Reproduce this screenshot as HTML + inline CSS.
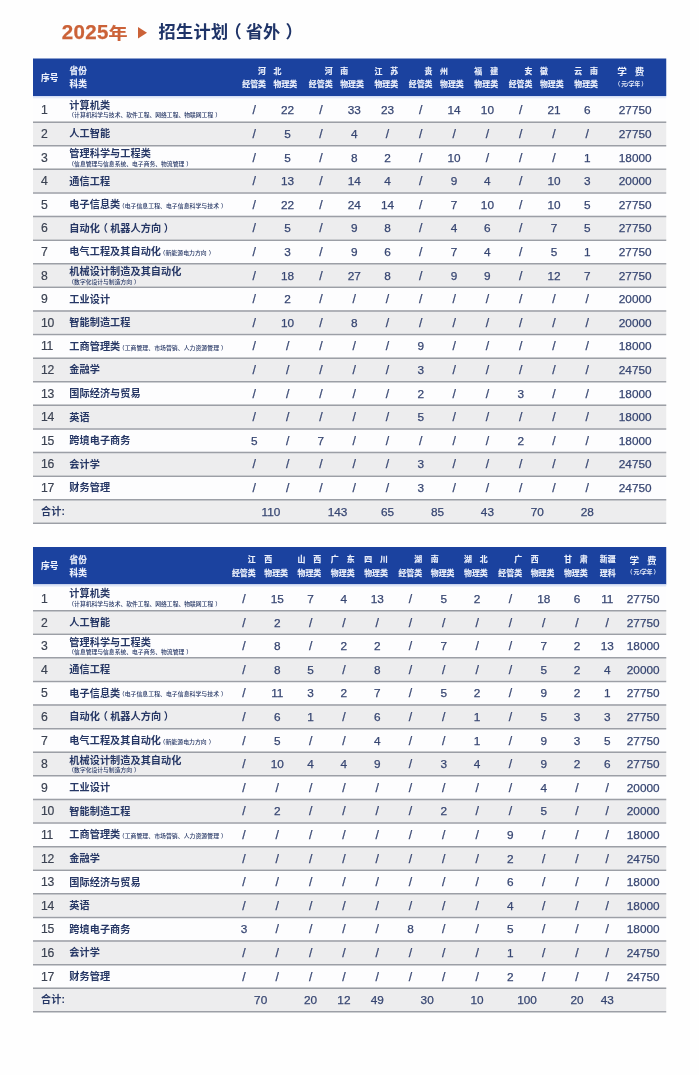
<!DOCTYPE html>
<html lang="zh-CN"><head><meta charset="utf-8"><title>2025年 招生计划（省外）</title>
<style>
html,body{margin:0;padding:0;background:#fefefe;}
#wrap{position:relative;width:699px;height:1075px;overflow:hidden;background:#fefefe;}
#pg{position:absolute;left:0;top:0;width:2796px;height:4300px;transform:scale(0.25);transform-origin:0 0;filter:blur(1.2px);
 font-family:"Liberation Sans","Noto Sans CJK SC",sans-serif;}
#pg div,#pg span{position:absolute;white-space:nowrap;line-height:1;}
#pg span span{position:static;}
.h{color:#edf1fc;font-size:31.6px;font-weight:700;-webkit-text-stroke:0.6px #edf1fc;}
.hl{font-size:34.8px;}
.hf{color:#edf1fc;font-size:38.4px;font-weight:700;}
.hs{color:#e9eefb;font-size:23.2px;font-weight:700;}
.i{color:#3b4252;font-size:48.8px;letter-spacing:-1.4px;-webkit-text-stroke:0.72px #3b4252;}
.n{color:#263765;font-size:40.6px;font-weight:700;letter-spacing:0.2px;}
.s{color:#263765;font-size:23.2px;font-weight:500;}
.s2{font-size:23.4px;margin-left:-6px;font-weight:500;vertical-align:1.2px;}
.d{color:#374672;font-size:47.2px;-webkit-text-stroke:1px #374672;}
.sl{font-size:48.8px;}
.t1{color:#cb6238;font-size:82px;font-weight:700;letter-spacing:1.2px;-webkit-text-stroke:1px #cb6238;}
.t2{color:#1f3468;font-size:68.8px;font-weight:700;letter-spacing:1px;}
</style></head><body><div id="wrap"><div id="pg">
<span class="t1" style="left:247.2px;top:129.2px;transform:translate(0,-50%);">2025<span style="display:inline-block;font-size:0.93em;transform:scaleY(0.86);transform-origin:50% 88%;">年</span></span>
<div style="left:552.4px;top:107.6px;width:0;height:0;border-left:36.8px solid #cb6238;border-top:23.2px solid transparent;border-bottom:23.2px solid transparent;"></div>
<span class="t2" style="left:634.4px;top:128.4px;transform:translate(0,-50%);">招生计划<span style="margin-left:-15.2px">（</span><span style="margin-left:14.4px;margin-right:20px">省外</span>）</span>
<div style="left:132.4px;top:234.4px;width:2532.8px;height:149.6px;background:#1b429f;"></div>
<span class="h hl" style="left:164px;top:311.2px;transform:translate(0,-50%);">序号</span>
<span class="h hl" style="left:278.4px;top:286px;transform:translate(0,-50%);">省份</span>
<span class="h hl" style="left:278.4px;top:338px;transform:translate(0,-50%);">科类</span>
<span class="h" style="left:1016.4px;top:338px;transform:translate(-50%,-50%);">经管类</span>
<span class="h" style="left:1141.6px;top:338px;transform:translate(-50%,-50%);">物理类</span>
<span class="h" style="left:1063.8px;top:283.6px;transform:translate(-100%,-50%);">河</span>
<span class="h" style="left:1094.2px;top:283.6px;transform:translate(0,-50%);">北</span>
<span class="h" style="left:1282.8px;top:338px;transform:translate(-50%,-50%);">经管类</span>
<span class="h" style="left:1408px;top:338px;transform:translate(-50%,-50%);">物理类</span>
<span class="h" style="left:1330.2px;top:283.6px;transform:translate(-100%,-50%);">河</span>
<span class="h" style="left:1360.6px;top:283.6px;transform:translate(0,-50%);">南</span>
<span class="h" style="left:1545.2px;top:338px;transform:translate(-50%,-50%);">物理类</span>
<span class="h" style="left:1497.8px;top:283.6px;transform:translate(0,-50%);">江</span>
<span class="h" style="left:1592.6px;top:283.6px;transform:translate(-100%,-50%);">苏</span>
<span class="h" style="left:1682.4px;top:338px;transform:translate(-50%,-50%);">经管类</span>
<span class="h" style="left:1807.6px;top:338px;transform:translate(-50%,-50%);">物理类</span>
<span class="h" style="left:1729.8px;top:283.6px;transform:translate(-100%,-50%);">贵</span>
<span class="h" style="left:1760.2px;top:283.6px;transform:translate(0,-50%);">州</span>
<span class="h" style="left:1944.8px;top:338px;transform:translate(-50%,-50%);">物理类</span>
<span class="h" style="left:1897.4px;top:283.6px;transform:translate(0,-50%);">福</span>
<span class="h" style="left:1992.2px;top:283.6px;transform:translate(-100%,-50%);">建</span>
<span class="h" style="left:2082px;top:338px;transform:translate(-50%,-50%);">经管类</span>
<span class="h" style="left:2207.2px;top:338px;transform:translate(-50%,-50%);">物理类</span>
<span class="h" style="left:2129.4px;top:283.6px;transform:translate(-100%,-50%);">安</span>
<span class="h" style="left:2159.8px;top:283.6px;transform:translate(0,-50%);">徽</span>
<span class="h" style="left:2344.4px;top:338px;transform:translate(-50%,-50%);">物理类</span>
<span class="h" style="left:2297px;top:283.6px;transform:translate(0,-50%);">云</span>
<span class="h" style="left:2391.8px;top:283.6px;transform:translate(-100%,-50%);">南</span>
<span class="hf" style="left:2523.2px;top:288.8px;transform:translate(-50%,-50%);">学<span style="margin-left:32px">费</span></span>
<span class="hs" style="left:2523.2px;top:336px;transform:translate(-50%,-50%);">（<span style="margin:0 4px">元/学年</span>）</span>
<div style="left:132.4px;top:384px;width:2532.8px;height:101.6px;background:#fdfdfe;"></div>
<span class="i" style="left:164px;top:441.2px;transform:translate(0,-50%);">1</span>
<span class="n" style="left:277.2px;top:421.6px;transform:translate(0,-50%);">计算机类</span>
<span class="s" style="left:273.2px;top:461.2px;transform:translate(0,-50%);">（计算机科学与技术、软件工程、网络工程、物联网工程<span style="margin-left:8px">）</span></span>
<span class="d sl" style="left:1017.2px;top:441.2px;transform:translate(-50%,-50%);">/</span>
<span class="d" style="left:1150.4px;top:441.2px;transform:translate(-50%,-50%);">22</span>
<span class="d sl" style="left:1283.6px;top:441.2px;transform:translate(-50%,-50%);">/</span>
<span class="d" style="left:1416.8px;top:441.2px;transform:translate(-50%,-50%);">33</span>
<span class="d" style="left:1550px;top:441.2px;transform:translate(-50%,-50%);">23</span>
<span class="d sl" style="left:1683.2px;top:441.2px;transform:translate(-50%,-50%);">/</span>
<span class="d" style="left:1816.4px;top:441.2px;transform:translate(-50%,-50%);">14</span>
<span class="d" style="left:1949.6px;top:441.2px;transform:translate(-50%,-50%);">10</span>
<span class="d sl" style="left:2082.8px;top:441.2px;transform:translate(-50%,-50%);">/</span>
<span class="d" style="left:2216px;top:441.2px;transform:translate(-50%,-50%);">21</span>
<span class="d" style="left:2349.2px;top:441.2px;transform:translate(-50%,-50%);">6</span>
<span class="d" style="left:2540.8px;top:441.2px;transform:translate(-50%,-50%);">27750</span>
<div style="left:132.4px;top:485.6px;width:2532.8px;height:94.4px;background:#ededee;"></div>
<span class="i" style="left:164px;top:535.6px;transform:translate(0,-50%);">2</span>
<span class="n" style="left:277.2px;top:536.4px;transform:translate(0,-50%);">人工智能</span>
<span class="d sl" style="left:1017.2px;top:535.6px;transform:translate(-50%,-50%);">/</span>
<span class="d" style="left:1150.4px;top:535.6px;transform:translate(-50%,-50%);">5</span>
<span class="d sl" style="left:1283.6px;top:535.6px;transform:translate(-50%,-50%);">/</span>
<span class="d" style="left:1416.8px;top:535.6px;transform:translate(-50%,-50%);">4</span>
<span class="d sl" style="left:1550px;top:535.6px;transform:translate(-50%,-50%);">/</span>
<span class="d sl" style="left:1683.2px;top:535.6px;transform:translate(-50%,-50%);">/</span>
<span class="d sl" style="left:1816.4px;top:535.6px;transform:translate(-50%,-50%);">/</span>
<span class="d sl" style="left:1949.6px;top:535.6px;transform:translate(-50%,-50%);">/</span>
<span class="d sl" style="left:2082.8px;top:535.6px;transform:translate(-50%,-50%);">/</span>
<span class="d sl" style="left:2216px;top:535.6px;transform:translate(-50%,-50%);">/</span>
<span class="d sl" style="left:2349.2px;top:535.6px;transform:translate(-50%,-50%);">/</span>
<span class="d" style="left:2540.8px;top:535.6px;transform:translate(-50%,-50%);">27750</span>
<div style="left:132.4px;top:580px;width:2532.8px;height:94.4px;background:#fdfdfe;"></div>
<span class="i" style="left:164px;top:630px;transform:translate(0,-50%);">3</span>
<span class="n" style="left:277.2px;top:615.2px;transform:translate(0,-50%);">管理科学与工程类</span>
<span class="s" style="left:273.2px;top:654.8px;transform:translate(0,-50%);">（信息管理与信息系统、电子商务、物流管理<span style="margin-left:8px">）</span></span>
<span class="d sl" style="left:1017.2px;top:630px;transform:translate(-50%,-50%);">/</span>
<span class="d" style="left:1150.4px;top:630px;transform:translate(-50%,-50%);">5</span>
<span class="d sl" style="left:1283.6px;top:630px;transform:translate(-50%,-50%);">/</span>
<span class="d" style="left:1416.8px;top:630px;transform:translate(-50%,-50%);">8</span>
<span class="d" style="left:1550px;top:630px;transform:translate(-50%,-50%);">2</span>
<span class="d sl" style="left:1683.2px;top:630px;transform:translate(-50%,-50%);">/</span>
<span class="d" style="left:1816.4px;top:630px;transform:translate(-50%,-50%);">10</span>
<span class="d sl" style="left:1949.6px;top:630px;transform:translate(-50%,-50%);">/</span>
<span class="d sl" style="left:2082.8px;top:630px;transform:translate(-50%,-50%);">/</span>
<span class="d sl" style="left:2216px;top:630px;transform:translate(-50%,-50%);">/</span>
<span class="d" style="left:2349.2px;top:630px;transform:translate(-50%,-50%);">1</span>
<span class="d" style="left:2540.8px;top:630px;transform:translate(-50%,-50%);">18000</span>
<div style="left:132.4px;top:674.4px;width:2532.8px;height:94.4px;background:#ededee;"></div>
<span class="i" style="left:164px;top:724.4px;transform:translate(0,-50%);">4</span>
<span class="n" style="left:277.2px;top:725.2px;transform:translate(0,-50%);">通信工程</span>
<span class="d sl" style="left:1017.2px;top:724.4px;transform:translate(-50%,-50%);">/</span>
<span class="d" style="left:1150.4px;top:724.4px;transform:translate(-50%,-50%);">13</span>
<span class="d sl" style="left:1283.6px;top:724.4px;transform:translate(-50%,-50%);">/</span>
<span class="d" style="left:1416.8px;top:724.4px;transform:translate(-50%,-50%);">14</span>
<span class="d" style="left:1550px;top:724.4px;transform:translate(-50%,-50%);">4</span>
<span class="d sl" style="left:1683.2px;top:724.4px;transform:translate(-50%,-50%);">/</span>
<span class="d" style="left:1816.4px;top:724.4px;transform:translate(-50%,-50%);">9</span>
<span class="d" style="left:1949.6px;top:724.4px;transform:translate(-50%,-50%);">4</span>
<span class="d sl" style="left:2082.8px;top:724.4px;transform:translate(-50%,-50%);">/</span>
<span class="d" style="left:2216px;top:724.4px;transform:translate(-50%,-50%);">10</span>
<span class="d" style="left:2349.2px;top:724.4px;transform:translate(-50%,-50%);">3</span>
<span class="d" style="left:2540.8px;top:724.4px;transform:translate(-50%,-50%);">20000</span>
<div style="left:132.4px;top:768.8px;width:2532.8px;height:94.4px;background:#fdfdfe;"></div>
<span class="i" style="left:164px;top:818.8px;transform:translate(0,-50%);">5</span>
<span class="n" style="left:277.2px;top:819.6px;transform:translate(0,-50%);">电子信息类<span class="s2">（电子信息工程、电子信息科学与技术<span style="margin-left:8px">）</span></span></span>
<span class="d sl" style="left:1017.2px;top:818.8px;transform:translate(-50%,-50%);">/</span>
<span class="d" style="left:1150.4px;top:818.8px;transform:translate(-50%,-50%);">22</span>
<span class="d sl" style="left:1283.6px;top:818.8px;transform:translate(-50%,-50%);">/</span>
<span class="d" style="left:1416.8px;top:818.8px;transform:translate(-50%,-50%);">24</span>
<span class="d" style="left:1550px;top:818.8px;transform:translate(-50%,-50%);">14</span>
<span class="d sl" style="left:1683.2px;top:818.8px;transform:translate(-50%,-50%);">/</span>
<span class="d" style="left:1816.4px;top:818.8px;transform:translate(-50%,-50%);">7</span>
<span class="d" style="left:1949.6px;top:818.8px;transform:translate(-50%,-50%);">10</span>
<span class="d sl" style="left:2082.8px;top:818.8px;transform:translate(-50%,-50%);">/</span>
<span class="d" style="left:2216px;top:818.8px;transform:translate(-50%,-50%);">10</span>
<span class="d" style="left:2349.2px;top:818.8px;transform:translate(-50%,-50%);">5</span>
<span class="d" style="left:2540.8px;top:818.8px;transform:translate(-50%,-50%);">27750</span>
<div style="left:132.4px;top:863.2px;width:2532.8px;height:94.4px;background:#ededee;"></div>
<span class="i" style="left:164px;top:913.2px;transform:translate(0,-50%);">6</span>
<span class="n" style="left:277.2px;top:914px;transform:translate(0,-50%);">自动化<span style="margin-left:-8.8px;margin-right:9.2px">（</span>机器人方向<span style="margin-left:10px">）</span></span>
<span class="d sl" style="left:1017.2px;top:913.2px;transform:translate(-50%,-50%);">/</span>
<span class="d" style="left:1150.4px;top:913.2px;transform:translate(-50%,-50%);">5</span>
<span class="d sl" style="left:1283.6px;top:913.2px;transform:translate(-50%,-50%);">/</span>
<span class="d" style="left:1416.8px;top:913.2px;transform:translate(-50%,-50%);">9</span>
<span class="d" style="left:1550px;top:913.2px;transform:translate(-50%,-50%);">8</span>
<span class="d sl" style="left:1683.2px;top:913.2px;transform:translate(-50%,-50%);">/</span>
<span class="d" style="left:1816.4px;top:913.2px;transform:translate(-50%,-50%);">4</span>
<span class="d" style="left:1949.6px;top:913.2px;transform:translate(-50%,-50%);">6</span>
<span class="d sl" style="left:2082.8px;top:913.2px;transform:translate(-50%,-50%);">/</span>
<span class="d" style="left:2216px;top:913.2px;transform:translate(-50%,-50%);">7</span>
<span class="d" style="left:2349.2px;top:913.2px;transform:translate(-50%,-50%);">5</span>
<span class="d" style="left:2540.8px;top:913.2px;transform:translate(-50%,-50%);">27750</span>
<div style="left:132.4px;top:957.6px;width:2532.8px;height:94.4px;background:#fdfdfe;"></div>
<span class="i" style="left:164px;top:1007.6px;transform:translate(0,-50%);">7</span>
<span class="n" style="left:277.2px;top:1008.4px;transform:translate(0,-50%);">电气工程及其自动化<span class="s2">（新能源电力方向<span style="margin-left:8px">）</span></span></span>
<span class="d sl" style="left:1017.2px;top:1007.6px;transform:translate(-50%,-50%);">/</span>
<span class="d" style="left:1150.4px;top:1007.6px;transform:translate(-50%,-50%);">3</span>
<span class="d sl" style="left:1283.6px;top:1007.6px;transform:translate(-50%,-50%);">/</span>
<span class="d" style="left:1416.8px;top:1007.6px;transform:translate(-50%,-50%);">9</span>
<span class="d" style="left:1550px;top:1007.6px;transform:translate(-50%,-50%);">6</span>
<span class="d sl" style="left:1683.2px;top:1007.6px;transform:translate(-50%,-50%);">/</span>
<span class="d" style="left:1816.4px;top:1007.6px;transform:translate(-50%,-50%);">7</span>
<span class="d" style="left:1949.6px;top:1007.6px;transform:translate(-50%,-50%);">4</span>
<span class="d sl" style="left:2082.8px;top:1007.6px;transform:translate(-50%,-50%);">/</span>
<span class="d" style="left:2216px;top:1007.6px;transform:translate(-50%,-50%);">5</span>
<span class="d" style="left:2349.2px;top:1007.6px;transform:translate(-50%,-50%);">1</span>
<span class="d" style="left:2540.8px;top:1007.6px;transform:translate(-50%,-50%);">27750</span>
<div style="left:132.4px;top:1052px;width:2532.8px;height:94.4px;background:#ededee;"></div>
<span class="i" style="left:164px;top:1102px;transform:translate(0,-50%);">8</span>
<span class="n" style="left:277.2px;top:1087.2px;transform:translate(0,-50%);">机械设计制造及其自动化</span>
<span class="s" style="left:273.2px;top:1126.8px;transform:translate(0,-50%);">（数字化设计与制造方向<span style="margin-left:8px">）</span></span>
<span class="d sl" style="left:1017.2px;top:1102px;transform:translate(-50%,-50%);">/</span>
<span class="d" style="left:1150.4px;top:1102px;transform:translate(-50%,-50%);">18</span>
<span class="d sl" style="left:1283.6px;top:1102px;transform:translate(-50%,-50%);">/</span>
<span class="d" style="left:1416.8px;top:1102px;transform:translate(-50%,-50%);">27</span>
<span class="d" style="left:1550px;top:1102px;transform:translate(-50%,-50%);">8</span>
<span class="d sl" style="left:1683.2px;top:1102px;transform:translate(-50%,-50%);">/</span>
<span class="d" style="left:1816.4px;top:1102px;transform:translate(-50%,-50%);">9</span>
<span class="d" style="left:1949.6px;top:1102px;transform:translate(-50%,-50%);">9</span>
<span class="d sl" style="left:2082.8px;top:1102px;transform:translate(-50%,-50%);">/</span>
<span class="d" style="left:2216px;top:1102px;transform:translate(-50%,-50%);">12</span>
<span class="d" style="left:2349.2px;top:1102px;transform:translate(-50%,-50%);">7</span>
<span class="d" style="left:2540.8px;top:1102px;transform:translate(-50%,-50%);">27750</span>
<div style="left:132.4px;top:1146.4px;width:2532.8px;height:94.4px;background:#fdfdfe;"></div>
<span class="i" style="left:164px;top:1196.4px;transform:translate(0,-50%);">9</span>
<span class="n" style="left:277.2px;top:1197.2px;transform:translate(0,-50%);">工业设计</span>
<span class="d sl" style="left:1017.2px;top:1196.4px;transform:translate(-50%,-50%);">/</span>
<span class="d" style="left:1150.4px;top:1196.4px;transform:translate(-50%,-50%);">2</span>
<span class="d sl" style="left:1283.6px;top:1196.4px;transform:translate(-50%,-50%);">/</span>
<span class="d sl" style="left:1416.8px;top:1196.4px;transform:translate(-50%,-50%);">/</span>
<span class="d sl" style="left:1550px;top:1196.4px;transform:translate(-50%,-50%);">/</span>
<span class="d sl" style="left:1683.2px;top:1196.4px;transform:translate(-50%,-50%);">/</span>
<span class="d sl" style="left:1816.4px;top:1196.4px;transform:translate(-50%,-50%);">/</span>
<span class="d sl" style="left:1949.6px;top:1196.4px;transform:translate(-50%,-50%);">/</span>
<span class="d sl" style="left:2082.8px;top:1196.4px;transform:translate(-50%,-50%);">/</span>
<span class="d sl" style="left:2216px;top:1196.4px;transform:translate(-50%,-50%);">/</span>
<span class="d sl" style="left:2349.2px;top:1196.4px;transform:translate(-50%,-50%);">/</span>
<span class="d" style="left:2540.8px;top:1196.4px;transform:translate(-50%,-50%);">20000</span>
<div style="left:132.4px;top:1240.8px;width:2532.8px;height:94.4px;background:#ededee;"></div>
<span class="i" style="left:164px;top:1290.8px;transform:translate(0,-50%);">10</span>
<span class="n" style="left:277.2px;top:1291.6px;transform:translate(0,-50%);">智能制造工程</span>
<span class="d sl" style="left:1017.2px;top:1290.8px;transform:translate(-50%,-50%);">/</span>
<span class="d" style="left:1150.4px;top:1290.8px;transform:translate(-50%,-50%);">10</span>
<span class="d sl" style="left:1283.6px;top:1290.8px;transform:translate(-50%,-50%);">/</span>
<span class="d" style="left:1416.8px;top:1290.8px;transform:translate(-50%,-50%);">8</span>
<span class="d sl" style="left:1550px;top:1290.8px;transform:translate(-50%,-50%);">/</span>
<span class="d sl" style="left:1683.2px;top:1290.8px;transform:translate(-50%,-50%);">/</span>
<span class="d sl" style="left:1816.4px;top:1290.8px;transform:translate(-50%,-50%);">/</span>
<span class="d sl" style="left:1949.6px;top:1290.8px;transform:translate(-50%,-50%);">/</span>
<span class="d sl" style="left:2082.8px;top:1290.8px;transform:translate(-50%,-50%);">/</span>
<span class="d sl" style="left:2216px;top:1290.8px;transform:translate(-50%,-50%);">/</span>
<span class="d sl" style="left:2349.2px;top:1290.8px;transform:translate(-50%,-50%);">/</span>
<span class="d" style="left:2540.8px;top:1290.8px;transform:translate(-50%,-50%);">20000</span>
<div style="left:132.4px;top:1335.2px;width:2532.8px;height:94.4px;background:#fdfdfe;"></div>
<span class="i" style="left:164px;top:1385.2px;transform:translate(0,-50%);">11</span>
<span class="n" style="left:277.2px;top:1386px;transform:translate(0,-50%);">工商管理类<span class="s2">（工商管理、市场营销、人力资源管理<span style="margin-left:8px">）</span></span></span>
<span class="d sl" style="left:1017.2px;top:1385.2px;transform:translate(-50%,-50%);">/</span>
<span class="d sl" style="left:1150.4px;top:1385.2px;transform:translate(-50%,-50%);">/</span>
<span class="d sl" style="left:1283.6px;top:1385.2px;transform:translate(-50%,-50%);">/</span>
<span class="d sl" style="left:1416.8px;top:1385.2px;transform:translate(-50%,-50%);">/</span>
<span class="d sl" style="left:1550px;top:1385.2px;transform:translate(-50%,-50%);">/</span>
<span class="d" style="left:1683.2px;top:1385.2px;transform:translate(-50%,-50%);">9</span>
<span class="d sl" style="left:1816.4px;top:1385.2px;transform:translate(-50%,-50%);">/</span>
<span class="d sl" style="left:1949.6px;top:1385.2px;transform:translate(-50%,-50%);">/</span>
<span class="d sl" style="left:2082.8px;top:1385.2px;transform:translate(-50%,-50%);">/</span>
<span class="d sl" style="left:2216px;top:1385.2px;transform:translate(-50%,-50%);">/</span>
<span class="d sl" style="left:2349.2px;top:1385.2px;transform:translate(-50%,-50%);">/</span>
<span class="d" style="left:2540.8px;top:1385.2px;transform:translate(-50%,-50%);">18000</span>
<div style="left:132.4px;top:1429.6px;width:2532.8px;height:94.4px;background:#ededee;"></div>
<span class="i" style="left:164px;top:1479.6px;transform:translate(0,-50%);">12</span>
<span class="n" style="left:277.2px;top:1480.4px;transform:translate(0,-50%);">金融学</span>
<span class="d sl" style="left:1017.2px;top:1479.6px;transform:translate(-50%,-50%);">/</span>
<span class="d sl" style="left:1150.4px;top:1479.6px;transform:translate(-50%,-50%);">/</span>
<span class="d sl" style="left:1283.6px;top:1479.6px;transform:translate(-50%,-50%);">/</span>
<span class="d sl" style="left:1416.8px;top:1479.6px;transform:translate(-50%,-50%);">/</span>
<span class="d sl" style="left:1550px;top:1479.6px;transform:translate(-50%,-50%);">/</span>
<span class="d" style="left:1683.2px;top:1479.6px;transform:translate(-50%,-50%);">3</span>
<span class="d sl" style="left:1816.4px;top:1479.6px;transform:translate(-50%,-50%);">/</span>
<span class="d sl" style="left:1949.6px;top:1479.6px;transform:translate(-50%,-50%);">/</span>
<span class="d sl" style="left:2082.8px;top:1479.6px;transform:translate(-50%,-50%);">/</span>
<span class="d sl" style="left:2216px;top:1479.6px;transform:translate(-50%,-50%);">/</span>
<span class="d sl" style="left:2349.2px;top:1479.6px;transform:translate(-50%,-50%);">/</span>
<span class="d" style="left:2540.8px;top:1479.6px;transform:translate(-50%,-50%);">24750</span>
<div style="left:132.4px;top:1524px;width:2532.8px;height:94.4px;background:#fdfdfe;"></div>
<span class="i" style="left:164px;top:1574px;transform:translate(0,-50%);">13</span>
<span class="n" style="left:277.2px;top:1574.8px;transform:translate(0,-50%);">国际经济与贸易</span>
<span class="d sl" style="left:1017.2px;top:1574px;transform:translate(-50%,-50%);">/</span>
<span class="d sl" style="left:1150.4px;top:1574px;transform:translate(-50%,-50%);">/</span>
<span class="d sl" style="left:1283.6px;top:1574px;transform:translate(-50%,-50%);">/</span>
<span class="d sl" style="left:1416.8px;top:1574px;transform:translate(-50%,-50%);">/</span>
<span class="d sl" style="left:1550px;top:1574px;transform:translate(-50%,-50%);">/</span>
<span class="d" style="left:1683.2px;top:1574px;transform:translate(-50%,-50%);">2</span>
<span class="d sl" style="left:1816.4px;top:1574px;transform:translate(-50%,-50%);">/</span>
<span class="d sl" style="left:1949.6px;top:1574px;transform:translate(-50%,-50%);">/</span>
<span class="d" style="left:2082.8px;top:1574px;transform:translate(-50%,-50%);">3</span>
<span class="d sl" style="left:2216px;top:1574px;transform:translate(-50%,-50%);">/</span>
<span class="d sl" style="left:2349.2px;top:1574px;transform:translate(-50%,-50%);">/</span>
<span class="d" style="left:2540.8px;top:1574px;transform:translate(-50%,-50%);">18000</span>
<div style="left:132.4px;top:1618.4px;width:2532.8px;height:94.4px;background:#ededee;"></div>
<span class="i" style="left:164px;top:1668.4px;transform:translate(0,-50%);">14</span>
<span class="n" style="left:277.2px;top:1669.2px;transform:translate(0,-50%);">英语</span>
<span class="d sl" style="left:1017.2px;top:1668.4px;transform:translate(-50%,-50%);">/</span>
<span class="d sl" style="left:1150.4px;top:1668.4px;transform:translate(-50%,-50%);">/</span>
<span class="d sl" style="left:1283.6px;top:1668.4px;transform:translate(-50%,-50%);">/</span>
<span class="d sl" style="left:1416.8px;top:1668.4px;transform:translate(-50%,-50%);">/</span>
<span class="d sl" style="left:1550px;top:1668.4px;transform:translate(-50%,-50%);">/</span>
<span class="d" style="left:1683.2px;top:1668.4px;transform:translate(-50%,-50%);">5</span>
<span class="d sl" style="left:1816.4px;top:1668.4px;transform:translate(-50%,-50%);">/</span>
<span class="d sl" style="left:1949.6px;top:1668.4px;transform:translate(-50%,-50%);">/</span>
<span class="d sl" style="left:2082.8px;top:1668.4px;transform:translate(-50%,-50%);">/</span>
<span class="d sl" style="left:2216px;top:1668.4px;transform:translate(-50%,-50%);">/</span>
<span class="d sl" style="left:2349.2px;top:1668.4px;transform:translate(-50%,-50%);">/</span>
<span class="d" style="left:2540.8px;top:1668.4px;transform:translate(-50%,-50%);">18000</span>
<div style="left:132.4px;top:1712.8px;width:2532.8px;height:94.4px;background:#fdfdfe;"></div>
<span class="i" style="left:164px;top:1762.8px;transform:translate(0,-50%);">15</span>
<span class="n" style="left:277.2px;top:1763.6px;transform:translate(0,-50%);">跨境电子商务</span>
<span class="d" style="left:1017.2px;top:1762.8px;transform:translate(-50%,-50%);">5</span>
<span class="d sl" style="left:1150.4px;top:1762.8px;transform:translate(-50%,-50%);">/</span>
<span class="d" style="left:1283.6px;top:1762.8px;transform:translate(-50%,-50%);">7</span>
<span class="d sl" style="left:1416.8px;top:1762.8px;transform:translate(-50%,-50%);">/</span>
<span class="d sl" style="left:1550px;top:1762.8px;transform:translate(-50%,-50%);">/</span>
<span class="d sl" style="left:1683.2px;top:1762.8px;transform:translate(-50%,-50%);">/</span>
<span class="d sl" style="left:1816.4px;top:1762.8px;transform:translate(-50%,-50%);">/</span>
<span class="d sl" style="left:1949.6px;top:1762.8px;transform:translate(-50%,-50%);">/</span>
<span class="d" style="left:2082.8px;top:1762.8px;transform:translate(-50%,-50%);">2</span>
<span class="d sl" style="left:2216px;top:1762.8px;transform:translate(-50%,-50%);">/</span>
<span class="d sl" style="left:2349.2px;top:1762.8px;transform:translate(-50%,-50%);">/</span>
<span class="d" style="left:2540.8px;top:1762.8px;transform:translate(-50%,-50%);">18000</span>
<div style="left:132.4px;top:1807.2px;width:2532.8px;height:94.4px;background:#ededee;"></div>
<span class="i" style="left:164px;top:1857.2px;transform:translate(0,-50%);">16</span>
<span class="n" style="left:277.2px;top:1858px;transform:translate(0,-50%);">会计学</span>
<span class="d sl" style="left:1017.2px;top:1857.2px;transform:translate(-50%,-50%);">/</span>
<span class="d sl" style="left:1150.4px;top:1857.2px;transform:translate(-50%,-50%);">/</span>
<span class="d sl" style="left:1283.6px;top:1857.2px;transform:translate(-50%,-50%);">/</span>
<span class="d sl" style="left:1416.8px;top:1857.2px;transform:translate(-50%,-50%);">/</span>
<span class="d sl" style="left:1550px;top:1857.2px;transform:translate(-50%,-50%);">/</span>
<span class="d" style="left:1683.2px;top:1857.2px;transform:translate(-50%,-50%);">3</span>
<span class="d sl" style="left:1816.4px;top:1857.2px;transform:translate(-50%,-50%);">/</span>
<span class="d sl" style="left:1949.6px;top:1857.2px;transform:translate(-50%,-50%);">/</span>
<span class="d sl" style="left:2082.8px;top:1857.2px;transform:translate(-50%,-50%);">/</span>
<span class="d sl" style="left:2216px;top:1857.2px;transform:translate(-50%,-50%);">/</span>
<span class="d sl" style="left:2349.2px;top:1857.2px;transform:translate(-50%,-50%);">/</span>
<span class="d" style="left:2540.8px;top:1857.2px;transform:translate(-50%,-50%);">24750</span>
<div style="left:132.4px;top:1901.6px;width:2532.8px;height:94.4px;background:#fdfdfe;"></div>
<span class="i" style="left:164px;top:1951.6px;transform:translate(0,-50%);">17</span>
<span class="n" style="left:277.2px;top:1952.4px;transform:translate(0,-50%);">财务管理</span>
<span class="d sl" style="left:1017.2px;top:1951.6px;transform:translate(-50%,-50%);">/</span>
<span class="d sl" style="left:1150.4px;top:1951.6px;transform:translate(-50%,-50%);">/</span>
<span class="d sl" style="left:1283.6px;top:1951.6px;transform:translate(-50%,-50%);">/</span>
<span class="d sl" style="left:1416.8px;top:1951.6px;transform:translate(-50%,-50%);">/</span>
<span class="d sl" style="left:1550px;top:1951.6px;transform:translate(-50%,-50%);">/</span>
<span class="d" style="left:1683.2px;top:1951.6px;transform:translate(-50%,-50%);">3</span>
<span class="d sl" style="left:1816.4px;top:1951.6px;transform:translate(-50%,-50%);">/</span>
<span class="d sl" style="left:1949.6px;top:1951.6px;transform:translate(-50%,-50%);">/</span>
<span class="d sl" style="left:2082.8px;top:1951.6px;transform:translate(-50%,-50%);">/</span>
<span class="d sl" style="left:2216px;top:1951.6px;transform:translate(-50%,-50%);">/</span>
<span class="d sl" style="left:2349.2px;top:1951.6px;transform:translate(-50%,-50%);">/</span>
<span class="d" style="left:2540.8px;top:1951.6px;transform:translate(-50%,-50%);">24750</span>
<div style="left:132.4px;top:1996px;width:2532.8px;height:94.4px;background:#ededee;"></div>
<span class="n" style="left:164px;top:2044.8px;transform:translate(0,-50%);">合计:</span>
<span class="d" style="left:1083.8px;top:2046px;transform:translate(-50%,-50%);">110</span>
<span class="d" style="left:1350.2px;top:2046px;transform:translate(-50%,-50%);">143</span>
<span class="d" style="left:1550px;top:2046px;transform:translate(-50%,-50%);">65</span>
<span class="d" style="left:1749.8px;top:2046px;transform:translate(-50%,-50%);">85</span>
<span class="d" style="left:1949.6px;top:2046px;transform:translate(-50%,-50%);">43</span>
<span class="d" style="left:2149.4px;top:2046px;transform:translate(-50%,-50%);">70</span>
<span class="d" style="left:2349.2px;top:2046px;transform:translate(-50%,-50%);">28</span>
<div style="left:132.4px;top:2188.4px;width:2532.8px;height:149.6px;background:#1b429f;"></div>
<span class="h hl" style="left:164px;top:2265.2px;transform:translate(0,-50%);">序号</span>
<span class="h hl" style="left:278.4px;top:2240px;transform:translate(0,-50%);">省份</span>
<span class="h hl" style="left:278.4px;top:2292px;transform:translate(0,-50%);">科类</span>
<span class="h" style="left:975.2px;top:2292px;transform:translate(-50%,-50%);">经管类</span>
<span class="h" style="left:1104.4px;top:2292px;transform:translate(-50%,-50%);">物理类</span>
<span class="h" style="left:1022.6px;top:2237.6px;transform:translate(-100%,-50%);">江</span>
<span class="h" style="left:1057px;top:2237.6px;transform:translate(0,-50%);">西</span>
<span class="h" style="left:1237.6px;top:2292px;transform:translate(-50%,-50%);">物理类</span>
<span class="h" style="left:1190.2px;top:2237.6px;transform:translate(0,-50%);">山</span>
<span class="h" style="left:1285px;top:2237.6px;transform:translate(-100%,-50%);">西</span>
<span class="h" style="left:1370.8px;top:2292px;transform:translate(-50%,-50%);">物理类</span>
<span class="h" style="left:1323.4px;top:2237.6px;transform:translate(0,-50%);">广</span>
<span class="h" style="left:1418.2px;top:2237.6px;transform:translate(-100%,-50%);">东</span>
<span class="h" style="left:1504px;top:2292px;transform:translate(-50%,-50%);">物理类</span>
<span class="h" style="left:1456.6px;top:2237.6px;transform:translate(0,-50%);">四</span>
<span class="h" style="left:1551.4px;top:2237.6px;transform:translate(-100%,-50%);">川</span>
<span class="h" style="left:1641.2px;top:2292px;transform:translate(-50%,-50%);">经管类</span>
<span class="h" style="left:1770.4px;top:2292px;transform:translate(-50%,-50%);">物理类</span>
<span class="h" style="left:1688.6px;top:2237.6px;transform:translate(-100%,-50%);">湖</span>
<span class="h" style="left:1723px;top:2237.6px;transform:translate(0,-50%);">南</span>
<span class="h" style="left:1903.6px;top:2292px;transform:translate(-50%,-50%);">物理类</span>
<span class="h" style="left:1856.2px;top:2237.6px;transform:translate(0,-50%);">湖</span>
<span class="h" style="left:1951px;top:2237.6px;transform:translate(-100%,-50%);">北</span>
<span class="h" style="left:2040.8px;top:2292px;transform:translate(-50%,-50%);">经管类</span>
<span class="h" style="left:2170px;top:2292px;transform:translate(-50%,-50%);">物理类</span>
<span class="h" style="left:2088.2px;top:2237.6px;transform:translate(-100%,-50%);">广</span>
<span class="h" style="left:2122.6px;top:2237.6px;transform:translate(0,-50%);">西</span>
<span class="h" style="left:2303.2px;top:2292px;transform:translate(-50%,-50%);">物理类</span>
<span class="h" style="left:2255.8px;top:2237.6px;transform:translate(0,-50%);">甘</span>
<span class="h" style="left:2350.6px;top:2237.6px;transform:translate(-100%,-50%);">肃</span>
<span class="h" style="left:2430.8px;top:2292px;transform:translate(-50%,-50%);">理科</span>
<span class="h" style="left:2430.8px;top:2237.6px;transform:translate(-50%,-50%);">新疆</span>
<span class="hf" style="left:2572.4px;top:2242.8px;transform:translate(-50%,-50%);">学<span style="margin-left:32px">费</span></span>
<span class="hs" style="left:2572.4px;top:2290px;transform:translate(-50%,-50%);">（<span style="margin:0 4px">元/学年</span>）</span>
<div style="left:132.4px;top:2338px;width:2532.8px;height:101.6px;background:#fdfdfe;"></div>
<span class="i" style="left:164px;top:2395.2px;transform:translate(0,-50%);">1</span>
<span class="n" style="left:277.2px;top:2375.6px;transform:translate(0,-50%);">计算机类</span>
<span class="s" style="left:273.2px;top:2415.2px;transform:translate(0,-50%);">（计算机科学与技术、软件工程、网络工程、物联网工程<span style="margin-left:8px">）</span></span>
<span class="d sl" style="left:976px;top:2395.2px;transform:translate(-50%,-50%);">/</span>
<span class="d" style="left:1109.2px;top:2395.2px;transform:translate(-50%,-50%);">15</span>
<span class="d" style="left:1242.4px;top:2395.2px;transform:translate(-50%,-50%);">7</span>
<span class="d" style="left:1375.6px;top:2395.2px;transform:translate(-50%,-50%);">4</span>
<span class="d" style="left:1508.8px;top:2395.2px;transform:translate(-50%,-50%);">13</span>
<span class="d sl" style="left:1642px;top:2395.2px;transform:translate(-50%,-50%);">/</span>
<span class="d" style="left:1775.2px;top:2395.2px;transform:translate(-50%,-50%);">5</span>
<span class="d" style="left:1908.4px;top:2395.2px;transform:translate(-50%,-50%);">2</span>
<span class="d sl" style="left:2041.6px;top:2395.2px;transform:translate(-50%,-50%);">/</span>
<span class="d" style="left:2174.8px;top:2395.2px;transform:translate(-50%,-50%);">18</span>
<span class="d" style="left:2308px;top:2395.2px;transform:translate(-50%,-50%);">6</span>
<span class="d" style="left:2429.2px;top:2395.2px;transform:translate(-50%,-50%);">11</span>
<span class="d" style="left:2572.8px;top:2395.2px;transform:translate(-50%,-50%);">27750</span>
<div style="left:132.4px;top:2439.6px;width:2532.8px;height:94.4px;background:#ededee;"></div>
<span class="i" style="left:164px;top:2489.6px;transform:translate(0,-50%);">2</span>
<span class="n" style="left:277.2px;top:2490.4px;transform:translate(0,-50%);">人工智能</span>
<span class="d sl" style="left:976px;top:2489.6px;transform:translate(-50%,-50%);">/</span>
<span class="d" style="left:1109.2px;top:2489.6px;transform:translate(-50%,-50%);">2</span>
<span class="d sl" style="left:1242.4px;top:2489.6px;transform:translate(-50%,-50%);">/</span>
<span class="d sl" style="left:1375.6px;top:2489.6px;transform:translate(-50%,-50%);">/</span>
<span class="d sl" style="left:1508.8px;top:2489.6px;transform:translate(-50%,-50%);">/</span>
<span class="d sl" style="left:1642px;top:2489.6px;transform:translate(-50%,-50%);">/</span>
<span class="d sl" style="left:1775.2px;top:2489.6px;transform:translate(-50%,-50%);">/</span>
<span class="d sl" style="left:1908.4px;top:2489.6px;transform:translate(-50%,-50%);">/</span>
<span class="d sl" style="left:2041.6px;top:2489.6px;transform:translate(-50%,-50%);">/</span>
<span class="d sl" style="left:2174.8px;top:2489.6px;transform:translate(-50%,-50%);">/</span>
<span class="d sl" style="left:2308px;top:2489.6px;transform:translate(-50%,-50%);">/</span>
<span class="d sl" style="left:2429.2px;top:2489.6px;transform:translate(-50%,-50%);">/</span>
<span class="d" style="left:2572.8px;top:2489.6px;transform:translate(-50%,-50%);">27750</span>
<div style="left:132.4px;top:2534px;width:2532.8px;height:94.4px;background:#fdfdfe;"></div>
<span class="i" style="left:164px;top:2584px;transform:translate(0,-50%);">3</span>
<span class="n" style="left:277.2px;top:2569.2px;transform:translate(0,-50%);">管理科学与工程类</span>
<span class="s" style="left:273.2px;top:2608.8px;transform:translate(0,-50%);">（信息管理与信息系统、电子商务、物流管理<span style="margin-left:8px">）</span></span>
<span class="d sl" style="left:976px;top:2584px;transform:translate(-50%,-50%);">/</span>
<span class="d" style="left:1109.2px;top:2584px;transform:translate(-50%,-50%);">8</span>
<span class="d sl" style="left:1242.4px;top:2584px;transform:translate(-50%,-50%);">/</span>
<span class="d" style="left:1375.6px;top:2584px;transform:translate(-50%,-50%);">2</span>
<span class="d" style="left:1508.8px;top:2584px;transform:translate(-50%,-50%);">2</span>
<span class="d sl" style="left:1642px;top:2584px;transform:translate(-50%,-50%);">/</span>
<span class="d" style="left:1775.2px;top:2584px;transform:translate(-50%,-50%);">7</span>
<span class="d sl" style="left:1908.4px;top:2584px;transform:translate(-50%,-50%);">/</span>
<span class="d sl" style="left:2041.6px;top:2584px;transform:translate(-50%,-50%);">/</span>
<span class="d" style="left:2174.8px;top:2584px;transform:translate(-50%,-50%);">7</span>
<span class="d" style="left:2308px;top:2584px;transform:translate(-50%,-50%);">2</span>
<span class="d" style="left:2429.2px;top:2584px;transform:translate(-50%,-50%);">13</span>
<span class="d" style="left:2572.8px;top:2584px;transform:translate(-50%,-50%);">18000</span>
<div style="left:132.4px;top:2628.4px;width:2532.8px;height:94.4px;background:#ededee;"></div>
<span class="i" style="left:164px;top:2678.4px;transform:translate(0,-50%);">4</span>
<span class="n" style="left:277.2px;top:2679.2px;transform:translate(0,-50%);">通信工程</span>
<span class="d sl" style="left:976px;top:2678.4px;transform:translate(-50%,-50%);">/</span>
<span class="d" style="left:1109.2px;top:2678.4px;transform:translate(-50%,-50%);">8</span>
<span class="d" style="left:1242.4px;top:2678.4px;transform:translate(-50%,-50%);">5</span>
<span class="d sl" style="left:1375.6px;top:2678.4px;transform:translate(-50%,-50%);">/</span>
<span class="d" style="left:1508.8px;top:2678.4px;transform:translate(-50%,-50%);">8</span>
<span class="d sl" style="left:1642px;top:2678.4px;transform:translate(-50%,-50%);">/</span>
<span class="d sl" style="left:1775.2px;top:2678.4px;transform:translate(-50%,-50%);">/</span>
<span class="d sl" style="left:1908.4px;top:2678.4px;transform:translate(-50%,-50%);">/</span>
<span class="d sl" style="left:2041.6px;top:2678.4px;transform:translate(-50%,-50%);">/</span>
<span class="d" style="left:2174.8px;top:2678.4px;transform:translate(-50%,-50%);">5</span>
<span class="d" style="left:2308px;top:2678.4px;transform:translate(-50%,-50%);">2</span>
<span class="d" style="left:2429.2px;top:2678.4px;transform:translate(-50%,-50%);">4</span>
<span class="d" style="left:2572.8px;top:2678.4px;transform:translate(-50%,-50%);">20000</span>
<div style="left:132.4px;top:2722.8px;width:2532.8px;height:94.4px;background:#fdfdfe;"></div>
<span class="i" style="left:164px;top:2772.8px;transform:translate(0,-50%);">5</span>
<span class="n" style="left:277.2px;top:2773.6px;transform:translate(0,-50%);">电子信息类<span class="s2">（电子信息工程、电子信息科学与技术<span style="margin-left:8px">）</span></span></span>
<span class="d sl" style="left:976px;top:2772.8px;transform:translate(-50%,-50%);">/</span>
<span class="d" style="left:1109.2px;top:2772.8px;transform:translate(-50%,-50%);">11</span>
<span class="d" style="left:1242.4px;top:2772.8px;transform:translate(-50%,-50%);">3</span>
<span class="d" style="left:1375.6px;top:2772.8px;transform:translate(-50%,-50%);">2</span>
<span class="d" style="left:1508.8px;top:2772.8px;transform:translate(-50%,-50%);">7</span>
<span class="d sl" style="left:1642px;top:2772.8px;transform:translate(-50%,-50%);">/</span>
<span class="d" style="left:1775.2px;top:2772.8px;transform:translate(-50%,-50%);">5</span>
<span class="d" style="left:1908.4px;top:2772.8px;transform:translate(-50%,-50%);">2</span>
<span class="d sl" style="left:2041.6px;top:2772.8px;transform:translate(-50%,-50%);">/</span>
<span class="d" style="left:2174.8px;top:2772.8px;transform:translate(-50%,-50%);">9</span>
<span class="d" style="left:2308px;top:2772.8px;transform:translate(-50%,-50%);">2</span>
<span class="d" style="left:2429.2px;top:2772.8px;transform:translate(-50%,-50%);">1</span>
<span class="d" style="left:2572.8px;top:2772.8px;transform:translate(-50%,-50%);">27750</span>
<div style="left:132.4px;top:2817.2px;width:2532.8px;height:94.4px;background:#ededee;"></div>
<span class="i" style="left:164px;top:2867.2px;transform:translate(0,-50%);">6</span>
<span class="n" style="left:277.2px;top:2868px;transform:translate(0,-50%);">自动化<span style="margin-left:-8.8px;margin-right:9.2px">（</span>机器人方向<span style="margin-left:10px">）</span></span>
<span class="d sl" style="left:976px;top:2867.2px;transform:translate(-50%,-50%);">/</span>
<span class="d" style="left:1109.2px;top:2867.2px;transform:translate(-50%,-50%);">6</span>
<span class="d" style="left:1242.4px;top:2867.2px;transform:translate(-50%,-50%);">1</span>
<span class="d sl" style="left:1375.6px;top:2867.2px;transform:translate(-50%,-50%);">/</span>
<span class="d" style="left:1508.8px;top:2867.2px;transform:translate(-50%,-50%);">6</span>
<span class="d sl" style="left:1642px;top:2867.2px;transform:translate(-50%,-50%);">/</span>
<span class="d sl" style="left:1775.2px;top:2867.2px;transform:translate(-50%,-50%);">/</span>
<span class="d" style="left:1908.4px;top:2867.2px;transform:translate(-50%,-50%);">1</span>
<span class="d sl" style="left:2041.6px;top:2867.2px;transform:translate(-50%,-50%);">/</span>
<span class="d" style="left:2174.8px;top:2867.2px;transform:translate(-50%,-50%);">5</span>
<span class="d" style="left:2308px;top:2867.2px;transform:translate(-50%,-50%);">3</span>
<span class="d" style="left:2429.2px;top:2867.2px;transform:translate(-50%,-50%);">3</span>
<span class="d" style="left:2572.8px;top:2867.2px;transform:translate(-50%,-50%);">27750</span>
<div style="left:132.4px;top:2911.6px;width:2532.8px;height:94.4px;background:#fdfdfe;"></div>
<span class="i" style="left:164px;top:2961.6px;transform:translate(0,-50%);">7</span>
<span class="n" style="left:277.2px;top:2962.4px;transform:translate(0,-50%);">电气工程及其自动化<span class="s2">（新能源电力方向<span style="margin-left:8px">）</span></span></span>
<span class="d sl" style="left:976px;top:2961.6px;transform:translate(-50%,-50%);">/</span>
<span class="d" style="left:1109.2px;top:2961.6px;transform:translate(-50%,-50%);">5</span>
<span class="d sl" style="left:1242.4px;top:2961.6px;transform:translate(-50%,-50%);">/</span>
<span class="d sl" style="left:1375.6px;top:2961.6px;transform:translate(-50%,-50%);">/</span>
<span class="d" style="left:1508.8px;top:2961.6px;transform:translate(-50%,-50%);">4</span>
<span class="d sl" style="left:1642px;top:2961.6px;transform:translate(-50%,-50%);">/</span>
<span class="d sl" style="left:1775.2px;top:2961.6px;transform:translate(-50%,-50%);">/</span>
<span class="d" style="left:1908.4px;top:2961.6px;transform:translate(-50%,-50%);">1</span>
<span class="d sl" style="left:2041.6px;top:2961.6px;transform:translate(-50%,-50%);">/</span>
<span class="d" style="left:2174.8px;top:2961.6px;transform:translate(-50%,-50%);">9</span>
<span class="d" style="left:2308px;top:2961.6px;transform:translate(-50%,-50%);">3</span>
<span class="d" style="left:2429.2px;top:2961.6px;transform:translate(-50%,-50%);">5</span>
<span class="d" style="left:2572.8px;top:2961.6px;transform:translate(-50%,-50%);">27750</span>
<div style="left:132.4px;top:3006px;width:2532.8px;height:94.4px;background:#ededee;"></div>
<span class="i" style="left:164px;top:3056px;transform:translate(0,-50%);">8</span>
<span class="n" style="left:277.2px;top:3041.2px;transform:translate(0,-50%);">机械设计制造及其自动化</span>
<span class="s" style="left:273.2px;top:3080.8px;transform:translate(0,-50%);">（数字化设计与制造方向<span style="margin-left:8px">）</span></span>
<span class="d sl" style="left:976px;top:3056px;transform:translate(-50%,-50%);">/</span>
<span class="d" style="left:1109.2px;top:3056px;transform:translate(-50%,-50%);">10</span>
<span class="d" style="left:1242.4px;top:3056px;transform:translate(-50%,-50%);">4</span>
<span class="d" style="left:1375.6px;top:3056px;transform:translate(-50%,-50%);">4</span>
<span class="d" style="left:1508.8px;top:3056px;transform:translate(-50%,-50%);">9</span>
<span class="d sl" style="left:1642px;top:3056px;transform:translate(-50%,-50%);">/</span>
<span class="d" style="left:1775.2px;top:3056px;transform:translate(-50%,-50%);">3</span>
<span class="d" style="left:1908.4px;top:3056px;transform:translate(-50%,-50%);">4</span>
<span class="d sl" style="left:2041.6px;top:3056px;transform:translate(-50%,-50%);">/</span>
<span class="d" style="left:2174.8px;top:3056px;transform:translate(-50%,-50%);">9</span>
<span class="d" style="left:2308px;top:3056px;transform:translate(-50%,-50%);">2</span>
<span class="d" style="left:2429.2px;top:3056px;transform:translate(-50%,-50%);">6</span>
<span class="d" style="left:2572.8px;top:3056px;transform:translate(-50%,-50%);">27750</span>
<div style="left:132.4px;top:3100.4px;width:2532.8px;height:94.4px;background:#fdfdfe;"></div>
<span class="i" style="left:164px;top:3150.4px;transform:translate(0,-50%);">9</span>
<span class="n" style="left:277.2px;top:3151.2px;transform:translate(0,-50%);">工业设计</span>
<span class="d sl" style="left:976px;top:3150.4px;transform:translate(-50%,-50%);">/</span>
<span class="d sl" style="left:1109.2px;top:3150.4px;transform:translate(-50%,-50%);">/</span>
<span class="d sl" style="left:1242.4px;top:3150.4px;transform:translate(-50%,-50%);">/</span>
<span class="d sl" style="left:1375.6px;top:3150.4px;transform:translate(-50%,-50%);">/</span>
<span class="d sl" style="left:1508.8px;top:3150.4px;transform:translate(-50%,-50%);">/</span>
<span class="d sl" style="left:1642px;top:3150.4px;transform:translate(-50%,-50%);">/</span>
<span class="d sl" style="left:1775.2px;top:3150.4px;transform:translate(-50%,-50%);">/</span>
<span class="d sl" style="left:1908.4px;top:3150.4px;transform:translate(-50%,-50%);">/</span>
<span class="d sl" style="left:2041.6px;top:3150.4px;transform:translate(-50%,-50%);">/</span>
<span class="d" style="left:2174.8px;top:3150.4px;transform:translate(-50%,-50%);">4</span>
<span class="d sl" style="left:2308px;top:3150.4px;transform:translate(-50%,-50%);">/</span>
<span class="d sl" style="left:2429.2px;top:3150.4px;transform:translate(-50%,-50%);">/</span>
<span class="d" style="left:2572.8px;top:3150.4px;transform:translate(-50%,-50%);">20000</span>
<div style="left:132.4px;top:3194.8px;width:2532.8px;height:94.4px;background:#ededee;"></div>
<span class="i" style="left:164px;top:3244.8px;transform:translate(0,-50%);">10</span>
<span class="n" style="left:277.2px;top:3245.6px;transform:translate(0,-50%);">智能制造工程</span>
<span class="d sl" style="left:976px;top:3244.8px;transform:translate(-50%,-50%);">/</span>
<span class="d" style="left:1109.2px;top:3244.8px;transform:translate(-50%,-50%);">2</span>
<span class="d sl" style="left:1242.4px;top:3244.8px;transform:translate(-50%,-50%);">/</span>
<span class="d sl" style="left:1375.6px;top:3244.8px;transform:translate(-50%,-50%);">/</span>
<span class="d sl" style="left:1508.8px;top:3244.8px;transform:translate(-50%,-50%);">/</span>
<span class="d sl" style="left:1642px;top:3244.8px;transform:translate(-50%,-50%);">/</span>
<span class="d" style="left:1775.2px;top:3244.8px;transform:translate(-50%,-50%);">2</span>
<span class="d sl" style="left:1908.4px;top:3244.8px;transform:translate(-50%,-50%);">/</span>
<span class="d sl" style="left:2041.6px;top:3244.8px;transform:translate(-50%,-50%);">/</span>
<span class="d" style="left:2174.8px;top:3244.8px;transform:translate(-50%,-50%);">5</span>
<span class="d sl" style="left:2308px;top:3244.8px;transform:translate(-50%,-50%);">/</span>
<span class="d sl" style="left:2429.2px;top:3244.8px;transform:translate(-50%,-50%);">/</span>
<span class="d" style="left:2572.8px;top:3244.8px;transform:translate(-50%,-50%);">20000</span>
<div style="left:132.4px;top:3289.2px;width:2532.8px;height:94.4px;background:#fdfdfe;"></div>
<span class="i" style="left:164px;top:3339.2px;transform:translate(0,-50%);">11</span>
<span class="n" style="left:277.2px;top:3340px;transform:translate(0,-50%);">工商管理类<span class="s2">（工商管理、市场营销、人力资源管理<span style="margin-left:8px">）</span></span></span>
<span class="d sl" style="left:976px;top:3339.2px;transform:translate(-50%,-50%);">/</span>
<span class="d sl" style="left:1109.2px;top:3339.2px;transform:translate(-50%,-50%);">/</span>
<span class="d sl" style="left:1242.4px;top:3339.2px;transform:translate(-50%,-50%);">/</span>
<span class="d sl" style="left:1375.6px;top:3339.2px;transform:translate(-50%,-50%);">/</span>
<span class="d sl" style="left:1508.8px;top:3339.2px;transform:translate(-50%,-50%);">/</span>
<span class="d sl" style="left:1642px;top:3339.2px;transform:translate(-50%,-50%);">/</span>
<span class="d sl" style="left:1775.2px;top:3339.2px;transform:translate(-50%,-50%);">/</span>
<span class="d sl" style="left:1908.4px;top:3339.2px;transform:translate(-50%,-50%);">/</span>
<span class="d" style="left:2041.6px;top:3339.2px;transform:translate(-50%,-50%);">9</span>
<span class="d sl" style="left:2174.8px;top:3339.2px;transform:translate(-50%,-50%);">/</span>
<span class="d sl" style="left:2308px;top:3339.2px;transform:translate(-50%,-50%);">/</span>
<span class="d sl" style="left:2429.2px;top:3339.2px;transform:translate(-50%,-50%);">/</span>
<span class="d" style="left:2572.8px;top:3339.2px;transform:translate(-50%,-50%);">18000</span>
<div style="left:132.4px;top:3383.6px;width:2532.8px;height:94.4px;background:#ededee;"></div>
<span class="i" style="left:164px;top:3433.6px;transform:translate(0,-50%);">12</span>
<span class="n" style="left:277.2px;top:3434.4px;transform:translate(0,-50%);">金融学</span>
<span class="d sl" style="left:976px;top:3433.6px;transform:translate(-50%,-50%);">/</span>
<span class="d sl" style="left:1109.2px;top:3433.6px;transform:translate(-50%,-50%);">/</span>
<span class="d sl" style="left:1242.4px;top:3433.6px;transform:translate(-50%,-50%);">/</span>
<span class="d sl" style="left:1375.6px;top:3433.6px;transform:translate(-50%,-50%);">/</span>
<span class="d sl" style="left:1508.8px;top:3433.6px;transform:translate(-50%,-50%);">/</span>
<span class="d sl" style="left:1642px;top:3433.6px;transform:translate(-50%,-50%);">/</span>
<span class="d sl" style="left:1775.2px;top:3433.6px;transform:translate(-50%,-50%);">/</span>
<span class="d sl" style="left:1908.4px;top:3433.6px;transform:translate(-50%,-50%);">/</span>
<span class="d" style="left:2041.6px;top:3433.6px;transform:translate(-50%,-50%);">2</span>
<span class="d sl" style="left:2174.8px;top:3433.6px;transform:translate(-50%,-50%);">/</span>
<span class="d sl" style="left:2308px;top:3433.6px;transform:translate(-50%,-50%);">/</span>
<span class="d sl" style="left:2429.2px;top:3433.6px;transform:translate(-50%,-50%);">/</span>
<span class="d" style="left:2572.8px;top:3433.6px;transform:translate(-50%,-50%);">24750</span>
<div style="left:132.4px;top:3478px;width:2532.8px;height:94.4px;background:#fdfdfe;"></div>
<span class="i" style="left:164px;top:3528px;transform:translate(0,-50%);">13</span>
<span class="n" style="left:277.2px;top:3528.8px;transform:translate(0,-50%);">国际经济与贸易</span>
<span class="d sl" style="left:976px;top:3528px;transform:translate(-50%,-50%);">/</span>
<span class="d sl" style="left:1109.2px;top:3528px;transform:translate(-50%,-50%);">/</span>
<span class="d sl" style="left:1242.4px;top:3528px;transform:translate(-50%,-50%);">/</span>
<span class="d sl" style="left:1375.6px;top:3528px;transform:translate(-50%,-50%);">/</span>
<span class="d sl" style="left:1508.8px;top:3528px;transform:translate(-50%,-50%);">/</span>
<span class="d sl" style="left:1642px;top:3528px;transform:translate(-50%,-50%);">/</span>
<span class="d sl" style="left:1775.2px;top:3528px;transform:translate(-50%,-50%);">/</span>
<span class="d sl" style="left:1908.4px;top:3528px;transform:translate(-50%,-50%);">/</span>
<span class="d" style="left:2041.6px;top:3528px;transform:translate(-50%,-50%);">6</span>
<span class="d sl" style="left:2174.8px;top:3528px;transform:translate(-50%,-50%);">/</span>
<span class="d sl" style="left:2308px;top:3528px;transform:translate(-50%,-50%);">/</span>
<span class="d sl" style="left:2429.2px;top:3528px;transform:translate(-50%,-50%);">/</span>
<span class="d" style="left:2572.8px;top:3528px;transform:translate(-50%,-50%);">18000</span>
<div style="left:132.4px;top:3572.4px;width:2532.8px;height:94.4px;background:#ededee;"></div>
<span class="i" style="left:164px;top:3622.4px;transform:translate(0,-50%);">14</span>
<span class="n" style="left:277.2px;top:3623.2px;transform:translate(0,-50%);">英语</span>
<span class="d sl" style="left:976px;top:3622.4px;transform:translate(-50%,-50%);">/</span>
<span class="d sl" style="left:1109.2px;top:3622.4px;transform:translate(-50%,-50%);">/</span>
<span class="d sl" style="left:1242.4px;top:3622.4px;transform:translate(-50%,-50%);">/</span>
<span class="d sl" style="left:1375.6px;top:3622.4px;transform:translate(-50%,-50%);">/</span>
<span class="d sl" style="left:1508.8px;top:3622.4px;transform:translate(-50%,-50%);">/</span>
<span class="d sl" style="left:1642px;top:3622.4px;transform:translate(-50%,-50%);">/</span>
<span class="d sl" style="left:1775.2px;top:3622.4px;transform:translate(-50%,-50%);">/</span>
<span class="d sl" style="left:1908.4px;top:3622.4px;transform:translate(-50%,-50%);">/</span>
<span class="d" style="left:2041.6px;top:3622.4px;transform:translate(-50%,-50%);">4</span>
<span class="d sl" style="left:2174.8px;top:3622.4px;transform:translate(-50%,-50%);">/</span>
<span class="d sl" style="left:2308px;top:3622.4px;transform:translate(-50%,-50%);">/</span>
<span class="d sl" style="left:2429.2px;top:3622.4px;transform:translate(-50%,-50%);">/</span>
<span class="d" style="left:2572.8px;top:3622.4px;transform:translate(-50%,-50%);">18000</span>
<div style="left:132.4px;top:3666.8px;width:2532.8px;height:94.4px;background:#fdfdfe;"></div>
<span class="i" style="left:164px;top:3716.8px;transform:translate(0,-50%);">15</span>
<span class="n" style="left:277.2px;top:3717.6px;transform:translate(0,-50%);">跨境电子商务</span>
<span class="d" style="left:976px;top:3716.8px;transform:translate(-50%,-50%);">3</span>
<span class="d sl" style="left:1109.2px;top:3716.8px;transform:translate(-50%,-50%);">/</span>
<span class="d sl" style="left:1242.4px;top:3716.8px;transform:translate(-50%,-50%);">/</span>
<span class="d sl" style="left:1375.6px;top:3716.8px;transform:translate(-50%,-50%);">/</span>
<span class="d sl" style="left:1508.8px;top:3716.8px;transform:translate(-50%,-50%);">/</span>
<span class="d" style="left:1642px;top:3716.8px;transform:translate(-50%,-50%);">8</span>
<span class="d sl" style="left:1775.2px;top:3716.8px;transform:translate(-50%,-50%);">/</span>
<span class="d sl" style="left:1908.4px;top:3716.8px;transform:translate(-50%,-50%);">/</span>
<span class="d" style="left:2041.6px;top:3716.8px;transform:translate(-50%,-50%);">5</span>
<span class="d sl" style="left:2174.8px;top:3716.8px;transform:translate(-50%,-50%);">/</span>
<span class="d sl" style="left:2308px;top:3716.8px;transform:translate(-50%,-50%);">/</span>
<span class="d sl" style="left:2429.2px;top:3716.8px;transform:translate(-50%,-50%);">/</span>
<span class="d" style="left:2572.8px;top:3716.8px;transform:translate(-50%,-50%);">18000</span>
<div style="left:132.4px;top:3761.2px;width:2532.8px;height:94.4px;background:#ededee;"></div>
<span class="i" style="left:164px;top:3811.2px;transform:translate(0,-50%);">16</span>
<span class="n" style="left:277.2px;top:3812px;transform:translate(0,-50%);">会计学</span>
<span class="d sl" style="left:976px;top:3811.2px;transform:translate(-50%,-50%);">/</span>
<span class="d sl" style="left:1109.2px;top:3811.2px;transform:translate(-50%,-50%);">/</span>
<span class="d sl" style="left:1242.4px;top:3811.2px;transform:translate(-50%,-50%);">/</span>
<span class="d sl" style="left:1375.6px;top:3811.2px;transform:translate(-50%,-50%);">/</span>
<span class="d sl" style="left:1508.8px;top:3811.2px;transform:translate(-50%,-50%);">/</span>
<span class="d sl" style="left:1642px;top:3811.2px;transform:translate(-50%,-50%);">/</span>
<span class="d sl" style="left:1775.2px;top:3811.2px;transform:translate(-50%,-50%);">/</span>
<span class="d sl" style="left:1908.4px;top:3811.2px;transform:translate(-50%,-50%);">/</span>
<span class="d" style="left:2041.6px;top:3811.2px;transform:translate(-50%,-50%);">1</span>
<span class="d sl" style="left:2174.8px;top:3811.2px;transform:translate(-50%,-50%);">/</span>
<span class="d sl" style="left:2308px;top:3811.2px;transform:translate(-50%,-50%);">/</span>
<span class="d sl" style="left:2429.2px;top:3811.2px;transform:translate(-50%,-50%);">/</span>
<span class="d" style="left:2572.8px;top:3811.2px;transform:translate(-50%,-50%);">24750</span>
<div style="left:132.4px;top:3855.6px;width:2532.8px;height:94.4px;background:#fdfdfe;"></div>
<span class="i" style="left:164px;top:3905.6px;transform:translate(0,-50%);">17</span>
<span class="n" style="left:277.2px;top:3906.4px;transform:translate(0,-50%);">财务管理</span>
<span class="d sl" style="left:976px;top:3905.6px;transform:translate(-50%,-50%);">/</span>
<span class="d sl" style="left:1109.2px;top:3905.6px;transform:translate(-50%,-50%);">/</span>
<span class="d sl" style="left:1242.4px;top:3905.6px;transform:translate(-50%,-50%);">/</span>
<span class="d sl" style="left:1375.6px;top:3905.6px;transform:translate(-50%,-50%);">/</span>
<span class="d sl" style="left:1508.8px;top:3905.6px;transform:translate(-50%,-50%);">/</span>
<span class="d sl" style="left:1642px;top:3905.6px;transform:translate(-50%,-50%);">/</span>
<span class="d sl" style="left:1775.2px;top:3905.6px;transform:translate(-50%,-50%);">/</span>
<span class="d sl" style="left:1908.4px;top:3905.6px;transform:translate(-50%,-50%);">/</span>
<span class="d" style="left:2041.6px;top:3905.6px;transform:translate(-50%,-50%);">2</span>
<span class="d sl" style="left:2174.8px;top:3905.6px;transform:translate(-50%,-50%);">/</span>
<span class="d sl" style="left:2308px;top:3905.6px;transform:translate(-50%,-50%);">/</span>
<span class="d sl" style="left:2429.2px;top:3905.6px;transform:translate(-50%,-50%);">/</span>
<span class="d" style="left:2572.8px;top:3905.6px;transform:translate(-50%,-50%);">24750</span>
<div style="left:132.4px;top:3950px;width:2532.8px;height:94.4px;background:#ededee;"></div>
<span class="n" style="left:164px;top:3998.8px;transform:translate(0,-50%);">合计:</span>
<span class="d" style="left:1042.6px;top:4000px;transform:translate(-50%,-50%);">70</span>
<span class="d" style="left:1242.4px;top:4000px;transform:translate(-50%,-50%);">20</span>
<span class="d" style="left:1375.6px;top:4000px;transform:translate(-50%,-50%);">12</span>
<span class="d" style="left:1508.8px;top:4000px;transform:translate(-50%,-50%);">49</span>
<span class="d" style="left:1708.6px;top:4000px;transform:translate(-50%,-50%);">30</span>
<span class="d" style="left:1908.4px;top:4000px;transform:translate(-50%,-50%);">10</span>
<span class="d" style="left:2108.2px;top:4000px;transform:translate(-50%,-50%);">100</span>
<span class="d" style="left:2308px;top:4000px;transform:translate(-50%,-50%);">20</span>
<span class="d" style="left:2429.2px;top:4000px;transform:translate(-50%,-50%);">43</span>
<div style="left:132.4px;top:485.6px;width:2532.8px;height:6px;background:#9c9fa6;"></div>
<div style="left:132.4px;top:580px;width:2532.8px;height:6px;background:#9c9fa6;"></div>
<div style="left:132.4px;top:674.4px;width:2532.8px;height:6px;background:#9c9fa6;"></div>
<div style="left:132.4px;top:768.8px;width:2532.8px;height:6px;background:#9c9fa6;"></div>
<div style="left:132.4px;top:863.2px;width:2532.8px;height:6px;background:#9c9fa6;"></div>
<div style="left:132.4px;top:957.6px;width:2532.8px;height:6px;background:#9c9fa6;"></div>
<div style="left:132.4px;top:1052px;width:2532.8px;height:6px;background:#9c9fa6;"></div>
<div style="left:132.4px;top:1146.4px;width:2532.8px;height:6px;background:#9c9fa6;"></div>
<div style="left:132.4px;top:1240.8px;width:2532.8px;height:6px;background:#9c9fa6;"></div>
<div style="left:132.4px;top:1335.2px;width:2532.8px;height:6px;background:#9c9fa6;"></div>
<div style="left:132.4px;top:1429.6px;width:2532.8px;height:6px;background:#9c9fa6;"></div>
<div style="left:132.4px;top:1524px;width:2532.8px;height:6px;background:#9c9fa6;"></div>
<div style="left:132.4px;top:1618.4px;width:2532.8px;height:6px;background:#9c9fa6;"></div>
<div style="left:132.4px;top:1712.8px;width:2532.8px;height:6px;background:#9c9fa6;"></div>
<div style="left:132.4px;top:1807.2px;width:2532.8px;height:6px;background:#9c9fa6;"></div>
<div style="left:132.4px;top:1901.6px;width:2532.8px;height:6px;background:#9c9fa6;"></div>
<div style="left:132.4px;top:1996px;width:2532.8px;height:6px;background:#9c9fa6;"></div>
<div style="left:132.4px;top:2090.4px;width:2532.8px;height:6px;background:#9c9fa6;"></div>
<div style="left:132.4px;top:2439.6px;width:2532.8px;height:6px;background:#9c9fa6;"></div>
<div style="left:132.4px;top:2534px;width:2532.8px;height:6px;background:#9c9fa6;"></div>
<div style="left:132.4px;top:2628.4px;width:2532.8px;height:6px;background:#9c9fa6;"></div>
<div style="left:132.4px;top:2722.8px;width:2532.8px;height:6px;background:#9c9fa6;"></div>
<div style="left:132.4px;top:2817.2px;width:2532.8px;height:6px;background:#9c9fa6;"></div>
<div style="left:132.4px;top:2911.6px;width:2532.8px;height:6px;background:#9c9fa6;"></div>
<div style="left:132.4px;top:3006px;width:2532.8px;height:6px;background:#9c9fa6;"></div>
<div style="left:132.4px;top:3100.4px;width:2532.8px;height:6px;background:#9c9fa6;"></div>
<div style="left:132.4px;top:3194.8px;width:2532.8px;height:6px;background:#9c9fa6;"></div>
<div style="left:132.4px;top:3289.2px;width:2532.8px;height:6px;background:#9c9fa6;"></div>
<div style="left:132.4px;top:3383.6px;width:2532.8px;height:6px;background:#9c9fa6;"></div>
<div style="left:132.4px;top:3478px;width:2532.8px;height:6px;background:#9c9fa6;"></div>
<div style="left:132.4px;top:3572.4px;width:2532.8px;height:6px;background:#9c9fa6;"></div>
<div style="left:132.4px;top:3666.8px;width:2532.8px;height:6px;background:#9c9fa6;"></div>
<div style="left:132.4px;top:3761.2px;width:2532.8px;height:6px;background:#9c9fa6;"></div>
<div style="left:132.4px;top:3855.6px;width:2532.8px;height:6px;background:#9c9fa6;"></div>
<div style="left:132.4px;top:3950px;width:2532.8px;height:6px;background:#9c9fa6;"></div>
<div style="left:132.4px;top:4044.4px;width:2532.8px;height:6px;background:#9c9fa6;"></div>
<div style="left:132.4px;top:384px;width:2532.8px;height:12px;background:linear-gradient(#cdd9f4,rgba(253,253,254,0));"></div>
<div style="left:132.4px;top:2338px;width:2532.8px;height:12px;background:linear-gradient(#cdd9f4,rgba(253,253,254,0));"></div>
</div></div></body></html>
